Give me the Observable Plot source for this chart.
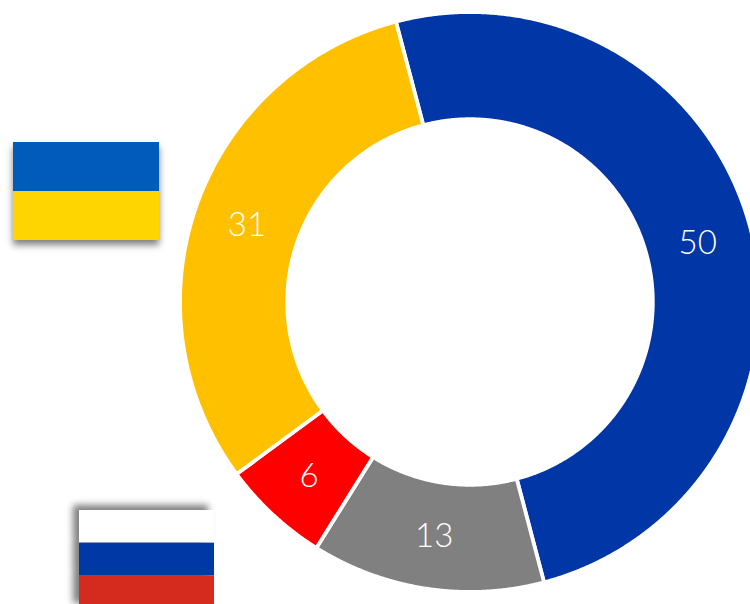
<!DOCTYPE html>
<html><head><meta charset="utf-8">
<style>html,body{margin:0;padding:0;background:#fff;overflow:hidden}svg{display:block}</style>
<script src="https://cdn.jsdelivr.net/npm/d3@7"></script>
<script src="https://cdn.jsdelivr.net/npm/@observablehq/plot@0.6"></script>
</head><body><div id="chart"></div>
<script>
const labels = ["50", "13", "6", "31"];
const values = [50, 13, 6, 31];
const colors = ["#0036a6", "#808080", "#ff0000", "#ffc000"];
const ukraineColors = ["#005bbb", "#ffd500"];
const russiaColors = ["#ffffff", "#0039a6", "#d52b1e"];

const cx = 469.5, cy = 301.5, R = 290, r = 182.8, startDeg = -14.8, labelR = 236;
const pie = d3.pie().sort(null).startAngle(startDeg * Math.PI / 180).endAngle((startDeg + 360) * Math.PI / 180)(values);
const pt = (rad, a) => [cx + rad * Math.sin(a), cy - rad * Math.cos(a)];
const poly = [];
pie.forEach((s, i) => {
  const n = Math.ceil((s.endAngle - s.startAngle) / 0.005);
  const ang = d3.range(n + 1).map(k => s.startAngle + (s.endAngle - s.startAngle) * k / n);
  for (const a of ang) { const [x, y] = pt(R, a); poly.push({x, y, k: labels[i]}); }
  for (const a of ang.slice().reverse()) { const [x, y] = pt(r, a); poly.push({x, y, k: labels[i]}); }
});
const texts = pie.map((s, i) => {
  const [x, y] = pt(labelR, (s.startAngle + s.endAngle) / 2);
  return {x, y, t: labels[i]};
});
const flag = (cols, x1, x2, y1, y2) => cols.map((c, i) => ({
  x1, x2, y1: y1 + (y2 - y1) * i / cols.length, y2: y1 + (y2 - y1) * (i + 1) / cols.length, c
}));
const chart = Plot.plot({
  width: 750, height: 604, margin: 0,
  x: {domain: [0, 750], range: [0, 750], axis: null},
  y: {domain: [0, 604], range: [0, 604], axis: null},
  color: {type: "ordinal", domain: labels, range: colors},
  marks: [
    Plot.line(poly, {x: "x", y: "y", z: "k", fill: "k", stroke: "#fff", strokeWidth: 3.8, curve: "linear-closed"}),
    Plot.rect(flag(ukraineColors, 13, 159, 142, 240), {x1: "x1", x2: "x2", y1: "y1", y2: "y2", fill: "c", imageFilter: "drop-shadow(0px 5px 3.5px rgba(0,0,0,0.5))"}),
    Plot.rect(flag(russiaColors, 79, 214, 510, 608), {x1: "x1", x2: "x2", y1: "y1", y2: "y2", fill: "c", imageFilter: "drop-shadow(-6px -5px 3.5px rgba(0,0,0,0.5))"}),
    Plot.text(texts, {x: "x", y: "y", dx: -0.5, dy: 1.5, text: "t", fill: "#fff", fontSize: 33, fontFamily: "Lato", fontWeight: 300})
  ]
});
document.getElementById("chart").append(chart);
</script></body></html>
